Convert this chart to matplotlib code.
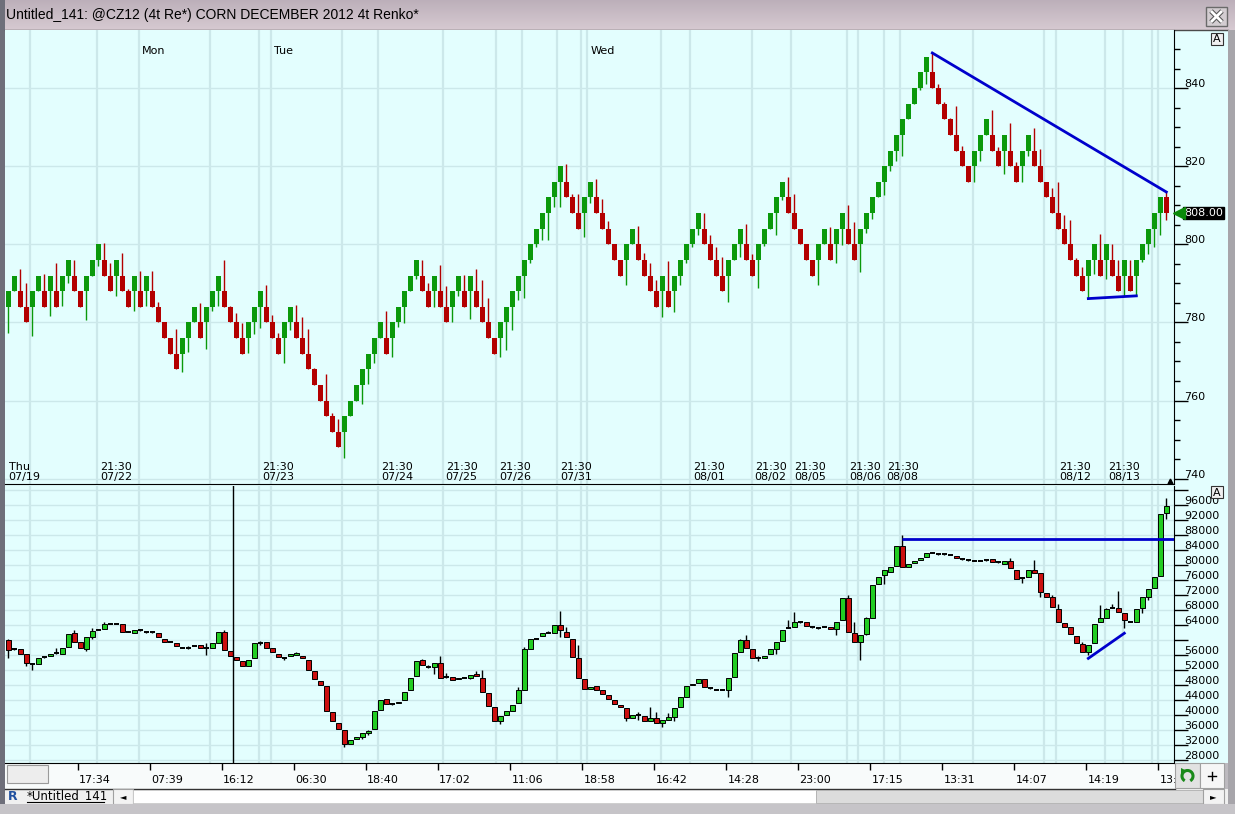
import matplotlib
matplotlib.use("Agg")
import matplotlib.pyplot as plt
import matplotlib.transforms as mtransforms
from matplotlib.patches import Rectangle, Arc, Polygon
from matplotlib.ticker import MultipleLocator
import numpy as np

# ---- Renko bricks (CZ12, 4t) ----
renko_open = [784, 788, 788, 784, 784, 788, 788, 788, 788, 788, 792, 792, 788, 788, 792, 796, 796, 792, 792, 792,
              788, 788, 788, 788, 788, 784, 780, 776, 772, 772, 776, 780, 780, 780, 784, 788, 788, 784, 780, 776,
              776, 780, 784, 784, 780, 776, 776, 780, 780, 776, 772, 768, 764, 760, 756, 752, 752, 756, 760, 764,
              768, 772, 776, 776, 776, 780, 784, 788, 792, 792, 788, 788, 788, 784, 784, 788, 788, 788, 788, 784,
              780, 776, 776, 780, 784, 788, 792, 796, 800, 804, 808, 812, 816, 816, 812, 808, 808, 812, 812, 808,
              804, 800, 796, 796, 800, 800, 796, 792, 788, 788, 788, 788, 792, 796, 800, 804, 804, 800, 796, 792,
              792, 796, 800, 800, 796, 796, 800, 804, 808, 812, 812, 808, 804, 800, 796, 796, 800, 800, 800, 804,
              804, 800, 800, 804, 808, 812, 816, 820, 824, 828, 832, 836, 840, 844, 844, 840, 836, 832, 828, 824,
              820, 820, 824, 828, 828, 824, 824, 824, 820, 820, 824, 824, 820, 816, 812, 808, 804, 800, 796, 792,
              792, 796, 796, 796, 796, 792, 792, 792, 792, 796, 800, 804, 808, 812]
renko_close = [788, 792, 784, 780, 788, 792, 784, 792, 784, 792, 796, 788, 784, 792, 796, 800, 792, 788, 796, 788,
               784, 792, 784, 792, 784, 780, 776, 772, 768, 776, 780, 784, 776, 784, 788, 792, 784, 780, 776, 772,
               780, 784, 788, 780, 776, 772, 780, 784, 776, 772, 768, 764, 760, 756, 752, 748, 756, 760, 764, 768,
               772, 776, 780, 772, 780, 784, 788, 792, 796, 788, 784, 792, 784, 780, 788, 792, 784, 792, 784, 780,
               776, 772, 780, 784, 788, 792, 796, 800, 804, 808, 812, 816, 820, 812, 808, 804, 812, 816, 808, 804,
               800, 796, 792, 800, 804, 796, 792, 788, 784, 792, 784, 792, 796, 800, 804, 808, 800, 796, 792, 788,
               796, 800, 804, 796, 792, 800, 804, 808, 812, 816, 808, 804, 800, 796, 792, 800, 804, 796, 804, 808,
               800, 796, 804, 808, 812, 816, 820, 824, 828, 832, 836, 840, 844, 848, 840, 836, 832, 828, 824, 820,
               816, 824, 828, 832, 824, 820, 828, 820, 816, 824, 828, 820, 816, 812, 808, 804, 800, 796, 792, 788,
               796, 800, 792, 800, 792, 788, 796, 788, 796, 800, 804, 808, 812, 808]
renko_high = [788, 792, 793.6, 790.1, 788, 792, 792.3, 792, 795.3, 792, 796, 796.1, 788, 792, 796, 800, 800.3, 795.3, 796, 797.7,
              788.6, 792, 793.1, 792, 793.1, 785.1, 780, 776, 778.2, 776, 780, 784, 785, 784, 788, 792, 796.1, 784.3, 782.4, 779.8,
              780, 784, 788, 789.7, 781.9, 777.2, 780, 784, 784.5, 781.3, 778.2, 768.4, 764, 766.9, 756.8, 755.3, 756, 760, 764, 768,
              772, 776, 780, 782.8, 780, 784, 788, 792, 796, 796, 790, 792, 794.7, 789.3, 788, 792, 792.1, 792, 793.8, 790.8,
              786.2, 776, 780, 784, 788, 792, 796, 800, 804, 808, 812, 816, 820, 820.5, 813, 813, 812, 816, 816.8, 811.7,
              806, 800, 796, 800, 804, 804.7, 797.7, 795.3, 790.8, 792, 795.7, 792, 796, 800, 804, 808, 808.1, 802.5, 799.4, 796.8,
              796, 800, 804, 805.2, 797.5, 800, 804, 808, 812, 816, 817.3, 813, 804, 800, 796, 800, 804, 804.5, 804, 808,
              810, 805.7, 804, 808, 812, 816, 820, 824, 828, 832, 836, 840, 844, 848, 849.0, 841.1, 836.4, 832.4, 835.4, 825.3,
              820, 824, 828, 832, 834.5, 824.9, 828, 831, 821.1, 824, 828, 829.9, 824.5, 816, 814.3, 816, 807.4, 806.2, 796.4, 794.2,
              796, 800, 802.7, 800, 800, 795.9, 796, 795.9, 796, 800, 804, 808, 812, 813.4]
renko_low = [777.2, 788, 784, 780, 776.5, 788, 784, 781.7, 784, 784.1, 790.1, 788, 784, 780.7, 792, 794.4, 792, 788, 786.8, 788,
             784, 782.8, 784, 784.1, 784, 780, 776, 772, 768, 767.3, 772.5, 780, 776, 773.1, 782.8, 784.1, 784, 780, 776, 772,
             772.2, 777, 778.5, 780, 776, 772, 769.5, 778.1, 776, 772, 768, 764, 760, 756, 752, 748, 745.4, 756, 760, 759.2,
             764.3, 769.6, 776, 772, 771.2, 778.9, 779.8, 788, 791, 788, 784, 784, 784, 780, 780, 786.8, 784, 781, 784, 780,
             776, 772, 771.2, 772.9, 778.1, 785.7, 786.3, 795.3, 799.4, 801.1, 801.1, 809.6, 809.6, 812, 808, 804, 801.8, 810.5, 808, 804,
             800, 796, 792, 789.6, 800, 796, 792, 788, 784, 781.5, 784, 782.6, 789.6, 795.1, 799.4, 802.4, 800, 796, 792, 788,
             785.3, 796, 796.8, 796, 792, 788.7, 799.6, 804, 802.4, 811.3, 808, 804, 800, 796, 792, 789.6, 800, 796, 795.1, 799.8,
             800, 796, 792.8, 802.9, 806.4, 812, 812.5, 818.9, 821.3, 822.6, 832, 836, 839.4, 841.1, 840, 836, 832, 828, 824, 820,
             816, 816, 821.3, 828, 824, 820, 818.1, 820, 816, 816, 822.6, 820, 816, 812, 808, 804, 800, 796, 792, 788,
             786.1, 792.5, 792, 791, 792, 788, 786.7, 788, 786.7, 795.5, 797.6, 799.3, 802.3, 806.2]

# ---- lower pane candles ----
osc_open = [60000, 57600, 57500, 56200, 53600, 53600, 55400, 55700, 56600, 56400, 58200, 61800, 59400, 57500, 60900, 62700, 62900, 64400, 64300, 64200,
            62200, 62000, 62800, 62100, 62100, 61800, 60400, 59600, 59300, 58000, 58000, 58400, 58700, 58000, 58000, 59300, 62200, 57100, 55400, 54500,
            53200, 55100, 59300, 59500, 57800, 56400, 55100, 55700, 55900, 55700, 54800, 51700, 49100, 47700, 40700, 38000, 35900, 32400, 33600, 34200,
            35100, 36200, 41300, 44200, 42900, 43100, 44000, 46700, 50400, 54700, 52900, 52900, 53800, 50200, 50200, 49500, 50000, 50000, 50900, 50000,
            46000, 42200, 38500, 40000, 41200, 43100, 46800, 57700, 60400, 61100, 62000, 62000, 64000, 62200, 60400, 55100, 49500, 46900, 47700, 46600,
            45400, 43900, 42800, 42000, 39100, 39900, 39700, 38400, 39200, 38000, 38700, 39600, 42200, 44900, 47900, 48600, 49500, 47100, 46800, 46800,
            46700, 50200, 56800, 60000, 57500, 55100, 55100, 56400, 57700, 59800, 63300, 63600, 64700, 64700, 63400, 63100, 63600, 63600, 62900, 65300,
            71100, 61900, 59600, 61600, 66000, 74900, 77300, 78200, 79700, 85200, 79400, 80600, 81400, 82100, 83300, 82900, 82900, 82700, 82400, 81500,
            81300, 81200, 81200, 81300, 81500, 80700, 80400, 81100, 78800, 76600, 76900, 78800, 77800, 72600, 71400, 68400, 64600, 63400, 61200, 58900,
            56900, 59100, 64700, 66000, 68600, 68600, 67300, 64900, 64700, 68600, 71600, 73800, 77200, 93800]
osc_high = [60300, 57800, 57500, 56200, 53800, 55100, 55500, 56300, 57800, 58000, 61500, 62700, 59400, 60700, 63100, 62800, 64700, 64500, 64400, 64200,
            62300, 62700, 63000, 62200, 62200, 61800, 60400, 59700, 59300, 58100, 58400, 58500, 58700, 59100, 59100, 62200, 62800, 57100, 55400, 54500,
            54800, 59100, 59700, 59500, 57800, 56400, 55600, 56400, 56900, 55700, 54800, 51700, 49100, 47700, 40700, 38000, 35900, 33300, 34100, 35100,
            36000, 41100, 44000, 44200, 43000, 43600, 46200, 50000, 54500, 54900, 53300, 53800, 55700, 51100, 50200, 50000, 50100, 50700, 51700, 52000,
            46000, 42200, 39800, 41000, 42800, 47400, 58200, 60200, 60500, 61800, 62300, 64000, 67800, 63600, 60400, 58700, 49500, 47600, 47700, 46600,
            45400, 43900, 42800, 42000, 39900, 40900, 39700, 42200, 40900, 38700, 40600, 42000, 44900, 47700, 48400, 49500, 49500, 47200, 46900, 46900,
            50000, 56600, 60300, 61400, 57500, 55700, 55800, 57500, 59600, 62800, 65300, 67400, 64800, 64700, 63500, 63200, 63700, 63600, 64900, 71100,
            72000, 64900, 61300, 66200, 74600, 76900, 78700, 79400, 85200, 88000, 80300, 81100, 81800, 83100, 83400, 83000, 83000, 82800, 82400, 81600,
            81400, 81300, 81300, 81400, 81500, 80800, 81100, 81800, 78800, 76700, 78700, 81300, 77800, 72600, 72000, 69500, 64600, 63400, 61200, 59400,
            58800, 64300, 69300, 68600, 69500, 73100, 67300, 65000, 68300, 71400, 73600, 76900, 93500, 97800]
osc_low = [55100, 57300, 56400, 53100, 52000, 53600, 55300, 55700, 56400, 56400, 58200, 59600, 57800, 57100, 60400, 62600, 62900, 64300, 64200, 62200,
           62100, 62000, 62500, 62000, 62000, 60700, 59600, 59500, 58400, 57900, 57700, 58300, 57800, 56000, 58000, 59300, 57300, 55700, 54700, 53200,
           53200, 55100, 58800, 58000, 56700, 55400, 54700, 55700, 55900, 55100, 52000, 49500, 47900, 41100, 38400, 36200, 31400, 32400, 33600, 33500,
           34700, 36200, 41300, 42900, 42800, 43100, 44000, 46700, 50400, 53300, 52500, 50900, 50000, 49800, 49300, 49500, 49900, 49500, 50400, 46200,
           42500, 38500, 37600, 40000, 41200, 43100, 46800, 57700, 60300, 61100, 61900, 62000, 60900, 60700, 55400, 49800, 46900, 46900, 46800, 45700,
           44200, 43000, 42200, 38500, 39100, 38700, 38400, 38400, 38000, 36700, 38700, 38500, 42200, 44900, 47900, 48600, 47600, 47000, 46700, 46700,
           44700, 50200, 56800, 57800, 55300, 54300, 55100, 56400, 56300, 59800, 63100, 63600, 64600, 63700, 63300, 63000, 63500, 62900, 61300, 65300,
           62200, 59600, 54800, 61300, 66000, 74900, 74900, 78200, 79700, 79400, 79400, 80600, 81400, 82100, 83200, 82800, 82800, 82600, 81800, 81400,
           81200, 81100, 81100, 81200, 80800, 80600, 80400, 79100, 76200, 75100, 76900, 77900, 71400, 71400, 68700, 64900, 63600, 61600, 59100, 56900,
           56000, 59100, 64700, 66000, 68500, 67600, 63100, 64800, 64700, 67300, 70700, 73800, 77200, 92400]
osc_close = [57300, 57400, 56400, 53800, 53500, 55100, 55400, 56300, 56600, 58000, 61500, 59600, 57800, 60700, 62500, 62700, 64300, 64400, 64300, 62200,
             62200, 62700, 62800, 62100, 62100, 60700, 59600, 59600, 58400, 58000, 58000, 58400, 57800, 58000, 59100, 62200, 57300, 55700, 54700, 53200,
             54800, 59100, 59300, 58000, 56700, 55400, 55100, 56400, 56600, 55100, 52000, 49500, 47900, 41100, 38400, 36200, 32400, 33300, 34100, 35100,
             35800, 41100, 44000, 42900, 42900, 43600, 46200, 50000, 54500, 53300, 52900, 53800, 50000, 50200, 49300, 50000, 50000, 50700, 50400, 46200,
             42500, 38500, 39800, 41000, 42800, 46700, 57500, 60200, 60400, 61800, 62000, 64000, 62700, 60700, 55400, 49800, 46900, 47600, 46800, 45700,
             44200, 43000, 42200, 39100, 39900, 39900, 38400, 39100, 38000, 38700, 39400, 42000, 44900, 47700, 48400, 49500, 47600, 47100, 46800, 46800,
             50000, 56600, 60000, 57800, 55300, 55100, 55800, 57500, 59600, 62800, 63300, 64700, 64700, 63700, 63400, 63100, 63600, 62900, 64900, 71100,
             62200, 59600, 61300, 65800, 74600, 76900, 78700, 79400, 85200, 79400, 80300, 81100, 81800, 83100, 83300, 82900, 82900, 82700, 81800, 81500,
             81300, 81200, 81200, 81300, 80800, 80700, 81100, 79100, 76200, 76600, 78700, 77900, 72900, 71400, 68700, 64900, 63600, 61600, 59100, 56900,
             58800, 64300, 65800, 68300, 68600, 67600, 65300, 64900, 68300, 71400, 73600, 76900, 93500, 95700]

# ---- axis text ----
session_lines = [3.6, 14.8, 21.7, 33.6, 41.8, 43.8, 55.6, 61.6, 72.4, 81.3, 85.6, 91.5, 95.5, 96.5, 108.7,
                 113.6, 123.9, 130.5, 139.7, 141.6, 145.9, 148.6, 160.8, 172.6, 174.6, 182.8, 185.7, 190.6, 191.6]
date_pos = [14.8, 41.8, 61.6, 72.4, 81.3, 91.5, 113.6, 123.9, 130.5, 139.7, 145.9, 174.6, 182.8]
date_text = ['07/22', '07/23', '07/24', '07/25', '07/26', '07/31', '08/01', '08/02', '08/05', '08/06', '08/08', '08/12', '08/13']
day_pos = [21.7, 43.8, 96.5]
day_text = ['Mon', 'Tue', 'Wed']
time_pos = [11.67, 23.67, 35.67, 47.67, 59.67, 71.67, 83.67, 95.67, 107.67, 119.67, 131.67, 143.67, 155.67, 167.67, 179.67, 191.67]
time_text = ['17:34', '07:39', '16:12', '06:30', '18:40', '17:02', '11:06', '18:58', '16:42', '14:28', '23:00',
             '17:15', '13:31', '14:07', '14:19', '13:31']
price_ticks = [740, 760, 780, 800, 820, 840]
osc_ticks = [28000, 32000, 36000, 40000, 44000, 48000, 52000, 56000, 64000, 68000, 72000, 76000, 80000, 84000, 88000, 92000, 96000]
last_price = 808.00

# drawn studies
renko_trend_x, renko_trend_y = [154, 193], [849.0, 813.4]
renko_base_x, renko_base_y = [180, 188], [786.1, 786.8]
osc_level, osc_level_start = 86900, 149
osc_trend_x, osc_trend_y = [180, 186], [55100, 61800]
cursor_x = 37.5

W, H = 1235, 814
CYAN = '#E3FEFE'
GRID = '#CCE8EA'
plt.rcParams['font.family'] = ['DejaVu Sans']

fig = plt.figure(figsize=(W / 100, H / 100), dpi=100)


def box(x0, y0, x1, y1):
    return [x0 / W, 1 - y1 / H, (x1 - x0) / W, (y1 - y0) / H]


# window chrome behind the panes
bg = fig.add_axes([0, 0, 1, 1], zorder=0)
grad = np.linspace(0, 1, 30)[:, None, None] * np.array([0.10, 0.10, 0.09]) + np.array([0.74, 0.69, 0.73])
bg.imshow(np.repeat(grad, 10, axis=1), extent=(0, W, 30, 0), aspect='auto')
bg.add_patch(Rectangle((0, 30), W, H - 30, fc='#BDBABF', ec='none', zorder=0))
bg.add_patch(Rectangle((0, 0), 5, H, fc='#6E6F7A', ec='none', zorder=1))
bg.add_patch(Rectangle((5, 30), 1223, 733, fc=CYAN, ec='none', zorder=1))
bg.add_patch(Rectangle((5, 763), 1170, 26, fc='#F8FBFB', ec='none', zorder=1))
bg.add_patch(Rectangle((5, 789), 1223, 15, fc='#F0F0F0', ec='none', zorder=1))
bg.plot([5, 1228], [30, 30], color='#4A4A4A', lw=1, zorder=2)
bg.plot([5, 1175], [789, 789], color='#333333', lw=1, zorder=2)
bg.add_patch(Rectangle((7, 765), 41, 18, fc='#EDEDED', ec='#9A9A9A', lw=0.8, zorder=2))
bg.text(6, 15, 'Untitled_141: @CZ12 (4t Re*) CORN DECEMBER 2012 4t Renko*', fontsize=10,
        family='Liberation Sans', va='center', ha='left', color='black', zorder=3)
# close button
bg.add_patch(Rectangle((1206, 7), 21, 19, fc='#D3CDD1', ec='#6A6A6A', lw=1, zorder=3))
for xs, ys in (([1211, 1222], [11, 22]), ([1211, 1222], [22, 11])):
    bg.plot(xs, ys, color='#555555', lw=3.5, zorder=4, solid_capstyle='butt')
    bg.plot(xs, ys, color='white', lw=2, zorder=5, solid_capstyle='butt')
# tab / scroll bar row
bg.text(13, 797, 'R', fontsize=9, fontweight='bold', color='#2050A0', ha='center', va='center', zorder=3)
bg.text(27, 796, '*Untitled_141', fontsize=8.5, ha='left', va='center', zorder=3)
bg.plot([27, 104], [802, 802], color='black', lw=0.8, zorder=3)
bg.add_patch(Rectangle((113, 789), 20, 15, fc='#F3F3F3', ec='#A0A0A0', lw=0.8, zorder=3))
bg.text(123, 796.5, '\u25C4', fontsize=6, ha='center', va='center', zorder=4)
bg.add_patch(Rectangle((133, 790), 683, 13, fc='white', ec='#C8C8C8', lw=0.6, zorder=3))
bg.add_patch(Rectangle((816, 790), 387, 13, fc='#DCDCDC', ec='#AFAFAF', lw=0.6, zorder=3))
bg.add_patch(Rectangle((1203, 789), 21, 15, fc='#F3F3F3', ec='#A0A0A0', lw=0.8, zorder=3))
bg.text(1213.5, 796.5, '\u25BA', fontsize=6, ha='center', va='center', zorder=4)
bg.set_xlim(0, W)
bg.set_ylim(H, 0)
bg.axis('off')

ax1 = fig.add_axes(box(5, 30, 1174, 484), zorder=2)
ax2 = fig.add_axes(box(5, 486, 1174, 763), zorder=2)

xi = np.arange(len(renko_open))
xlim = (-0.55, 194.28)

# ---- upper pane: renko bricks ----
ro = np.array(renko_open)
rc = np.array(renko_close)
rcol = np.where(rc > ro, '#0B990B', '#B30000')
ax1.vlines(xi, renko_low, renko_high, colors=rcol, lw=1, zorder=3)
ax1.bar(xi, np.abs(rc - ro), bottom=np.minimum(ro, rc), width=0.78, color=rcol, linewidth=0, zorder=4)
ax1.plot(renko_trend_x, renko_trend_y, color='#0000CC', lw=2, zorder=5)
ax1.plot(renko_base_x, renko_base_y, color='#0000CC', lw=2, zorder=5)

# ---- lower pane: candles ----
co = np.array(osc_open)
cc = np.array(osc_close)
doji = np.abs(cc - co) <= 200
body = ~doji
ax2.vlines(xi, osc_low, osc_high, colors='black', lw=1, zorder=3)
ax2.bar(xi[body], np.abs(cc - co)[body], bottom=np.minimum(co, cc)[body], width=0.8,
        color=np.where(cc > co, '#22CC22', '#CC1010')[body], edgecolor='black', linewidth=0.7, zorder=4)
ax2.hlines(co[doji], xi[doji] - 0.42, xi[doji] + 0.42, colors='black', lw=1.4, zorder=4)
ax2.hlines(osc_level, osc_level_start, xlim[1], colors='#0000CC', lw=2, zorder=5)
ax2.plot(osc_trend_x, osc_trend_y, color='#0000CC', lw=2, zorder=5)
ax2.axvline(cursor_x, color='black', lw=1, zorder=6)

for ax in (ax1, ax2):
    ax.set_facecolor(CYAN)
    ax.set_xlim(*xlim)
    ax.set_axisbelow(True)
    for s in session_lines:
        ax.axvline(s, color=GRID, lw=1.6, zorder=1)
    ax.spines['left'].set_visible(False)
    ax.spines['top'].set_visible(False)
    ax.spines['right'].set_color('black')
    ax.spines['bottom'].set_color('black')
    ax.yaxis.tick_right()
    ax.tick_params(axis='y', which='major', length=10, width=1, direction='out', labelright=False, color='black')
    ax.grid(axis='y', which='major', color=GRID, lw=1)

ax1.set_ylim(738.62, 854.88)
ax1.set_yticks(price_ticks)
ax1.yaxis.set_minor_locator(MultipleLocator(5))
ax1.tick_params(axis='y', which='minor', length=4, width=1, direction='out', color='black')
ax1.tick_params(axis='x', bottom=False, labelbottom=False)

ax2.set_ylim(27200, 101067)
ax2.set_yticks(np.arange(28000, 100001, 4000))
ax2.set_xticks(time_pos)
ax2.tick_params(axis='x', length=5, width=1, direction='out', labelbottom=False, color='black')

# right axis labels
lab1 = mtransforms.offset_copy(mtransforms.blended_transform_factory(ax1.transAxes, ax1.transData),
                               fig=fig, x=10, y=1, units='dots')
for v in price_ticks:
    ax1.text(1, v, str(v), transform=lab1, fontsize=8, ha='left', va='baseline', clip_on=False)
lab2 = mtransforms.offset_copy(mtransforms.blended_transform_factory(ax2.transAxes, ax2.transData),
                               fig=fig, x=10, y=1, units='dots')
for v in osc_ticks:
    ax2.text(1, v, str(v), transform=lab2, fontsize=8, ha='left', va='baseline', clip_on=False)

# last price tag
tag = mtransforms.offset_copy(mtransforms.blended_transform_factory(ax1.transAxes, ax1.transData),
                              fig=fig, x=10, y=0, units='dots')
ax1.text(1, last_price, f'{last_price:.2f}', transform=tag, fontsize=8, color='white', ha='left', va='center',
         bbox=dict(boxstyle='square,pad=0.12', fc='black', ec='black'), clip_on=False, zorder=7)
arrow = mtransforms.offset_copy(mtransforms.blended_transform_factory(ax1.transAxes, ax1.transData),
                                fig=fig, x=5, y=0, units='dots')
ax1.plot([1], [last_price], marker='<', ms=8, color='#0A8A0A', transform=arrow, clip_on=False, zorder=7)

# date / session labels in the upper pane
dlab = mtransforms.offset_copy(mtransforms.blended_transform_factory(ax1.transData, ax1.transAxes),
                               fig=fig, x=3, y=2, units='dots')
ax1.text(-0.45, 0, 'Thu\n07/19', transform=dlab, fontsize=8, ha='left', va='bottom', linespacing=0.95, zorder=6)
for p, t in zip(date_pos, date_text):
    ax1.text(p, 0, '21:30\n' + t, transform=dlab, fontsize=8, ha='left', va='bottom', linespacing=0.95, zorder=6)
wlab = mtransforms.offset_copy(mtransforms.blended_transform_factory(ax1.transData, ax1.transAxes),
                               fig=fig, x=3, y=-21, units='dots')
for p, t in zip(day_pos, day_text):
    ax1.text(p, 1, t, transform=wlab, fontsize=8, ha='left', va='center', zorder=6)

# time labels under the lower pane (the last one runs under the buttons)
strip = mtransforms.TransformedBbox(mtransforms.Bbox([[5, 0], [1175, H]]), mtransforms.IdentityTransform())
tlab = mtransforms.offset_copy(mtransforms.blended_transform_factory(ax2.transData, ax2.transAxes),
                               fig=fig, x=1, y=-17, units='dots')
for p, t in zip(time_pos, time_text):
    txt = ax2.text(p, 0, t, transform=tlab, fontsize=8, ha='left', va='center', clip_on=True)
    txt.set_clip_box(strip)

# chrome drawn on top
fg = fig.add_axes([0, 0, 1, 1], zorder=10)
fg.set_xlim(0, W)
fg.set_ylim(H, 0)
fg.axis('off')
for y0 in (33, 486):
    fg.add_patch(Rectangle((1211, y0), 12, 12, fc='#F0F0F0', ec='#333333', lw=0.8))
    fg.text(1217, y0 + 6.5, 'A', fontsize=8, ha='center', va='center')
fg.plot([1170], [481], marker='^', ms=3.5, color='black')
fg.add_patch(Rectangle((1175, 763), 25, 25, fc='#E2E2E2', ec='#A0A0A0', lw=0.8))
fg.add_patch(Arc((1187.5, 776), 11, 11, theta1=120, theta2=420, color='#1A8A1A', lw=2.2))
fg.add_patch(Polygon([[1181, 768], [1187, 771], [1181, 775]], closed=True, fc='#1A8A1A', ec='none'))
fg.add_patch(Rectangle((1200, 763), 24, 25, fc='#F6F6F6', ec='#A0A0A0', lw=0.8))
fg.plot([1208, 1216], [775.5, 775.5], color='black', lw=1)
fg.plot([1212, 1212], [771.5, 779.5], color='black', lw=1)
fg.add_patch(Rectangle((1228, 30), 7, H - 30, fc='#A7A5AA', ec='none'))
fg.add_patch(Rectangle((0, 804), W, 10, fc='#C6C4C8', ec='none'))

fig.savefig('out.png', dpi=100)
